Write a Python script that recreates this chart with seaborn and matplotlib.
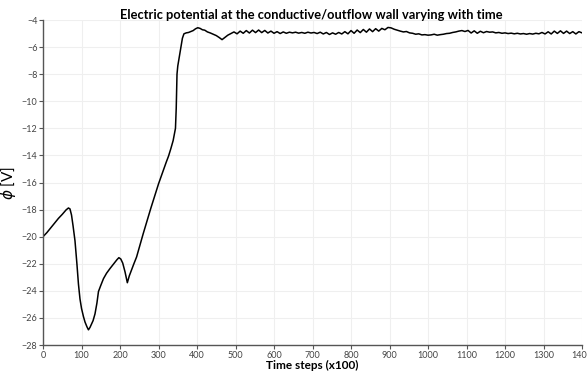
import numpy as np
import pandas as pd
import matplotlib
matplotlib.use("Agg")
import matplotlib.pyplot as plt
import seaborn as sns

# ---- data ----
time_steps = [
    0, 10, 20, 30, 40, 50, 60, 66, 70, 74, 78, 83, 88, 92, 96, 100, 105, 109, 114, 118,
    122, 126, 130, 135, 140, 144, 150, 157, 165, 174, 185, 192, 197, 202, 207, 213, 219,
    224, 230, 236, 243, 250, 260, 270, 280, 290, 300, 310, 320, 326, 332, 338, 344, 346,
    348, 350, 354, 358, 362, 366, 372, 378, 384, 390, 396, 402, 408, 414, 420, 427, 434,
    442, 450, 458, 465,
    472, 480, 488, 496, 504, 512, 520, 528, 536, 544, 552, 560, 568, 576, 584, 592, 600,
    608, 616, 624, 632, 640,
    648, 656, 664, 672, 680, 688, 696, 704, 712,
    720, 728, 736, 744, 752, 760, 768, 776,
    784, 792, 800, 808, 816, 824, 832, 840, 848, 856, 864, 872, 880, 888,
    896, 904, 912, 920, 928, 936, 944, 952, 960, 968, 976, 984, 992, 1000,
    1008, 1016, 1024, 1032, 1040, 1048, 1056, 1064,
    1072, 1080, 1088, 1096,
    1104, 1112, 1120, 1128, 1136, 1144, 1152, 1160, 1168, 1176,
    1184, 1192, 1200, 1208, 1216, 1224, 1232, 1240, 1248, 1256, 1264, 1272, 1280, 1288,
    1296, 1304, 1312, 1320, 1328, 1336, 1344, 1352, 1360, 1368, 1376, 1384, 1392, 1400,
]
potential = [
    -20.0, -19.7, -19.35, -19.0, -18.65, -18.35, -18.02, -17.88, -17.95, -18.4, -19.2,
    -20.3, -22.0, -23.5, -24.6, -25.3, -25.9, -26.3, -26.65, -26.88,
    -26.7, -26.45, -26.2, -25.7, -24.9, -24.05, -23.6, -23.1, -22.7, -22.35, -21.95,
    -21.7, -21.55, -21.65, -21.95, -22.6, -23.4,
    -22.9, -22.45, -22.0, -21.5, -20.8, -19.8, -18.85, -17.9, -17.0, -16.1, -15.3,
    -14.5, -14.05, -13.5, -12.9, -12.0, -10.5,
    -8.0, -7.4, -6.7, -6.0, -5.35, -5.02, -4.95, -4.92, -4.85, -4.78, -4.65, -4.57,
    -4.62, -4.72, -4.75, -4.88, -4.95,
    -5.05, -5.15, -5.3, -5.45,
    -5.3, -5.12, -5.0, -4.88, -5.02, -4.82, -4.98, -4.78, -4.96, -4.75, -4.93, -4.74,
    -4.93, -4.77, -4.96, -4.82, -4.98, -4.86, -5.0, -4.88, -4.98, -4.9,
    -4.95, -4.9, -4.97, -4.92, -4.98, -4.9, -4.96, -4.92, -5.0,
    -4.9, -5.03, -4.92, -5.07, -4.95, -5.05, -4.92, -5.03,
    -4.86, -5.02, -4.78, -4.98, -4.74, -4.93, -4.7, -4.9, -4.66, -4.86, -4.64, -4.82,
    -4.62, -4.72,
    -4.55, -4.58, -4.68, -4.75, -4.82, -4.88, -4.85, -4.95, -4.98, -5.05, -5.02, -5.1,
    -5.08, -5.12,
    -5.1, -5.05, -5.12, -5.08, -5.05, -5.0, -4.98, -4.92,
    -4.88, -4.82, -4.78, -4.85,
    -4.77, -4.96, -4.8, -4.98, -4.83, -4.94, -4.85, -4.9, -4.88, -4.95,
    -4.92, -4.98, -4.95, -5.0, -4.97, -5.02, -4.98, -5.03, -5.0, -5.05, -5.0, -5.04,
    -4.98, -5.02,
    -4.92, -5.03, -4.87, -5.03, -4.82, -4.99, -4.8, -4.99, -4.82, -5.0, -4.86, -5.03,
    -4.86, -4.95,
]
x_ticks = list(range(0, 1401, 100))
y_ticks = list(range(-28, -3, 2))

df = pd.DataFrame({"t": time_steps, "phi": potential})

sns.set_theme(style="white")
plt.rcParams["font.family"] = ["Lato", "DejaVu Sans"]

fig = plt.figure(figsize=(5.87, 3.74), dpi=100)
ax = fig.add_axes([0.0733, 0.0775, 0.9182, 0.869])

sns.lineplot(data=df, x="t", y="phi", ax=ax, color="black", linewidth=1.1,
             estimator=None, sort=False)

ax.set_xlim(0, 1400)
ax.set_ylim(-28, -4)
ax.set_xticks(x_ticks)
ax.set_yticks(y_ticks)
ax.grid(True, color="#efefef", linewidth=0.8)
ax.set_axisbelow(True)

for s in ["top", "right"]:
    ax.spines[s].set_visible(False)
for s in ["left", "bottom"]:
    ax.spines[s].set_color("#555555")
    ax.spines[s].set_linewidth(1.0)

ax.tick_params(axis="both", which="major", direction="out", length=3, width=0.8,
               color="#555555", labelsize=6.5, labelcolor="#444444", pad=1,
               left=True, bottom=True)

ax.set_xlabel("Time steps (x100)", fontsize=8.5, fontweight="bold", labelpad=0,
              color="black")
ax.set_ylabel(r"$\phi$ [V]", fontsize=11, color="black")
ax.yaxis.set_label_coords(-0.046, 0.5)

fig.text(0.531, 0.961, "Electric potential at the conductive/outflow wall varying with time",
         ha="center", va="center", fontsize=9.3, fontweight="bold", color="black")

fig.savefig("out.png", dpi=100, facecolor="white")
